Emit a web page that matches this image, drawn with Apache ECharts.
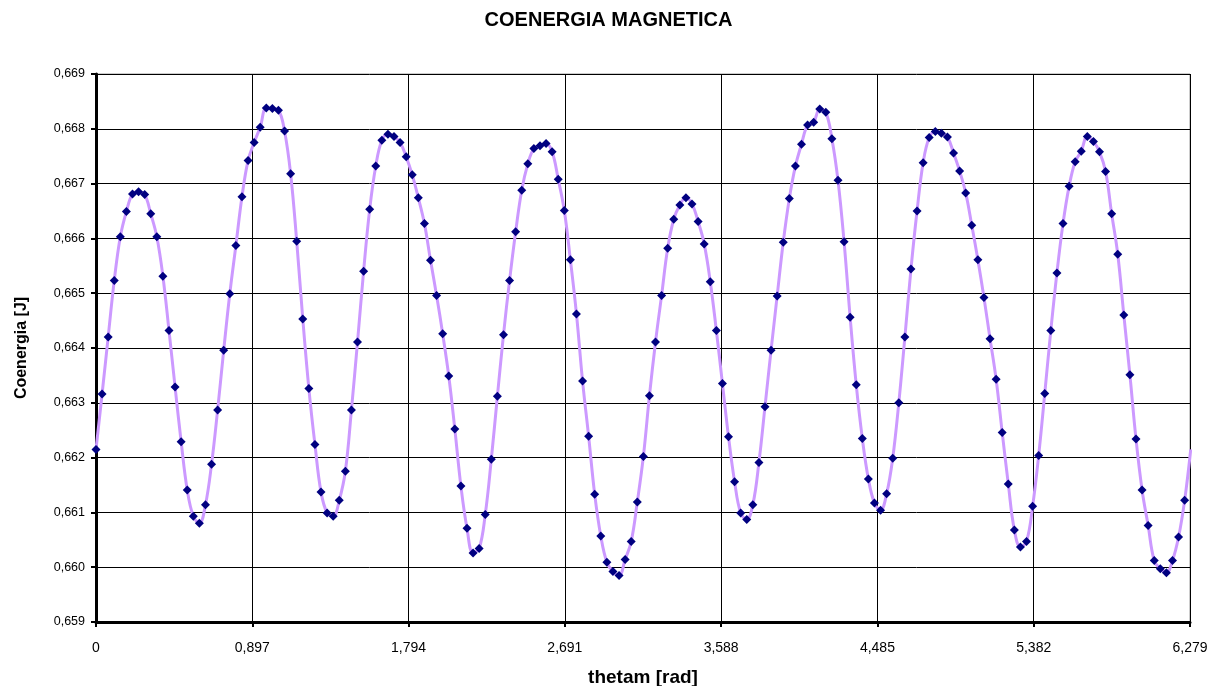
<!DOCTYPE html>
<html>
<head>
<meta charset="utf-8">
<script src="https://cdn.jsdelivr.net/npm/echarts@6/dist/echarts.min.js"></script>
<style>
html,body{margin:0;padding:0;background:#fff;}
#chart{width:1217px;height:686px;}
</style>
</head>
<body>
<div id="chart"></div>
<script>
// angle samples (rad)
const thetam = [
0,0.0349,0.0698,0.1047,0.1396,0.1745,0.2094,0.2443,0.2793,0.3142,
0.3491,0.3840,0.4189,0.4538,0.4887,0.5236,0.5585,0.5934,0.6283,0.6632,
0.6981,0.7330,0.7679,0.8029,0.8378,0.8727,0.9076,0.9425,0.9774,1.0123,
1.0472,1.0821,1.1170,1.1519,1.1868,1.2217,1.2566,1.2915,1.3265,1.3614,
1.3963,1.4312,1.4661,1.5010,1.5359,1.5708,1.6057,1.6406,1.6755,1.7104,
1.7453,1.7802,1.8151,1.8500,1.8850,1.9199,1.9548,1.9897,2.0246,2.0595,
2.0944,2.1293,2.1642,2.1991,2.2340,2.2689,2.3038,2.3387,2.3736,2.4086,
2.4435,2.4784,2.5133,2.5482,2.5831,2.6180,2.6529,2.6878,2.7227,2.7576,
2.7925,2.8274,2.8623,2.8972,2.9322,2.9671,3.0020,3.0369,3.0718,3.1067,
3.1416,3.1765,3.2114,3.2463,3.2812,3.3161,3.3510,3.3859,3.4208,3.4558,
3.4907,3.5256,3.5605,3.5954,3.6303,3.6652,3.7001,3.7350,3.7699,3.8048,
3.8397,3.8746,3.9095,3.9444,3.9794,4.0143,4.0492,4.0841,4.1190,4.1539,
4.1888,4.2237,4.2586,4.2935,4.3284,4.3633,4.3982,4.4331,4.4680,4.5029,
4.5379,4.5728,4.6077,4.6426,4.6775,4.7124,4.7473,4.7822,4.8171,4.8520,
4.8869,4.9218,4.9567,4.9916,5.0265,5.0615,5.0964,5.1313,5.1662,5.2011,
5.2360,5.2709,5.3058,5.3407,5.3756,5.4105,5.4454,5.4803,5.5152,5.5501,
5.5851,5.6200,5.6549,5.6898,5.7247,5.7596,5.7945,5.8294,5.8643,5.8992,
5.9341,5.9690,6.0039,6.0388,6.0737,6.1087,6.1436,6.1785,6.2134,6.2483,
6.2832
];
// coenergy values (J)
const coenergia = [
0.66215,0.66316,0.66420,0.66523,0.66603,0.66649,0.66681,0.66685,0.66680,0.66645,
0.66603,0.66531,0.66432,0.66329,0.66229,0.66141,0.66093,0.66080,0.66114,0.66188,
0.66287,0.66396,0.66499,0.66587,0.66676,0.66742,0.66775,0.66803,0.66838,0.66837,
0.66834,0.66796,0.66718,0.66595,0.66453,0.66326,0.66224,0.66137,0.66099,0.66093,
0.66122,0.66175,0.66287,0.66411,0.66540,0.66653,0.66732,0.66779,0.66790,0.66786,
0.66775,0.66749,0.66716,0.66674,0.66627,0.66560,0.66496,0.66426,0.66349,0.66252,
0.66148,0.66071,0.66026,0.66034,0.66096,0.66197,0.66312,0.66424,0.66523,0.66612,
0.66688,0.66736,0.66764,0.66769,0.66773,0.66758,0.66708,0.66651,0.66561,0.66462,
0.66340,0.66239,0.66133,0.66057,0.66009,0.65992,0.65985,0.66014,0.66047,0.66119,
0.66202,0.66313,0.66411,0.66496,0.66582,0.66635,0.66661,0.66674,0.66663,0.66631,
0.66590,0.66521,0.66432,0.66335,0.66238,0.66156,0.66099,0.66087,0.66114,0.66191,
0.66293,0.66396,0.66495,0.66593,0.66673,0.66732,0.66772,0.66807,0.66812,0.66836,
0.66830,0.66782,0.66706,0.66594,0.66456,0.66333,0.66235,0.66161,0.66117,0.66104,
0.66134,0.66199,0.66300,0.66420,0.66544,0.66650,0.66738,0.66784,0.66795,0.66792,
0.66785,0.66756,0.66723,0.66683,0.66624,0.66561,0.66492,0.66417,0.66343,0.66246,
0.66152,0.66068,0.66037,0.66047,0.66111,0.66204,0.66317,0.66432,0.66537,0.66627,
0.66695,0.66740,0.66759,0.66786,0.66777,0.66758,0.66722,0.66645,0.66571,0.66460,
0.66351,0.66234,0.66141,0.66076,0.66012,0.65997,0.65990,0.66012,0.66055,0.66122,
0.66215
];
const xTicks = {min: 0, max: 6.279, interval: 0.897};
const yTicks = {min: 0.659, max: 0.669, interval: 0.001};
const titleText = 'COENERGIA MAGNETICA';
const xName = 'thetam [rad]';
const yName = 'Coenergia [J]';

const seriesData = thetam.map((t, i) => [t, coenergia[i]]);
const font = 'Liberation Sans, Arial, sans-serif';
const chart = echarts.init(document.getElementById('chart'), null, {renderer: 'canvas'});
chart.setOption({
  backgroundColor: '#fff',
  animation: false,
  title: {
    text: titleText, left: 'center', top: 5,
    textStyle: {fontFamily: font, fontSize: 20, fontWeight: 'bold', color: '#000'}
  },
  grid: {left: 96, right: 27, top: 74, bottom: 64, show: true, borderColor: '#999', borderWidth: 1,
    backgroundColor: '#fff', containLabel: false, outerBoundsMode: 'none'},
  xAxis: {
    type: 'value', min: xTicks.min, max: xTicks.max, interval: xTicks.interval,
    name: xName, nameLocation: 'middle', nameGap: 46,
    nameTextStyle: {fontFamily: font, fontSize: 19, fontWeight: 'bold', color: '#000'},
    axisLine: {show: true, onZero: false, lineStyle: {color: '#000', width: 3}},
    axisTick: {show: true, length: 5, lineStyle: {color: '#000', width: 2}},
    axisLabel: {fontFamily: font, fontSize: 14, color: '#000', margin: 19,
      formatter: v => v === 0 ? '0' : v.toFixed(3).replace('.', ',')},
    splitLine: {show: true, lineStyle: {color: '#000', width: 1}}
  },
  yAxis: {
    type: 'value', min: yTicks.min, max: yTicks.max, interval: yTicks.interval,
    name: yName, nameLocation: 'middle', nameGap: 66, nameRotate: 90,
    nameTextStyle: {fontFamily: font, fontSize: 16, fontWeight: 'bold', color: '#000'},
    axisLine: {show: true, onZero: false, lineStyle: {color: '#000', width: 3}},
    axisTick: {show: true, length: 5, lineStyle: {color: '#000', width: 2}},
    axisLabel: {fontFamily: font, fontSize: 12.5, color: '#000', margin: 11,
      formatter: v => v.toFixed(3).replace('.', ',')},
    splitLine: {show: true, lineStyle: {color: '#000', width: 1}}
  },
  series: [{
    type: 'line',
    data: seriesData,
    smooth: 0.4,
    clip: true,
    symbol: 'diamond',
    symbolSize: 9,
    showAllSymbol: true,
    lineStyle: {color: '#CC99FF', width: 3},
    itemStyle: {color: '#000080'}
  }]
});
</script>
</body>
</html>
